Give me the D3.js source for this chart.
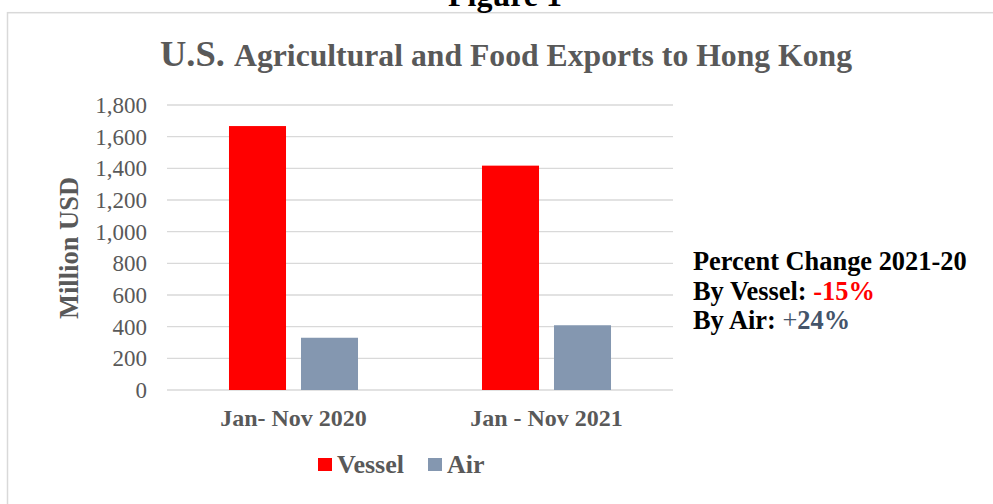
<!DOCTYPE html>
<html>
<head>
<meta charset="utf-8">
<script src="https://cdn.jsdelivr.net/npm/d3@7"></script>
<style>
  body { margin: 0; background: #fff; }
  svg { display: block; font-family: "Liberation Serif", "Times New Roman", serif; }
</style>
</head>
<body>
<svg width="993" height="504"></svg>
<script>
const PERIODS = ['Jan- Nov 2020', 'Jan - Nov 2021'];
const SERIES = ['Vessel', 'Air'];
const VESSEL = [1667, 1417];
const AIR = [330, 409];
const Y_TICKS = [0, 200, 400, 600, 800, 1000, 1200, 1400, 1600, 1800];
const COLORS = ['#ff0000', '#8497b0'];

const PLOT = { left: 167, right: 673, top: 105, bottom: 390 };

const rows = PERIODS.map((p, i) => ({ period: p, values: [VESSEL[i], AIR[i]] }));

const svg = d3.select('svg');

// outer frame
svg.append('rect')
    .attr('x', 7.5).attr('y', 12.7)
    .attr('width', 1000).attr('height', 520)
    .attr('fill', 'none')
    .attr('stroke', '#d9d9d9')
    .attr('stroke-width', 1.5);

svg.append('text')
    .attr('x', 505).attr('y', 6)
    .attr('text-anchor', 'middle')
    .attr('font-weight', 'bold')
    .attr('font-size', 32)
    .attr('fill', '#000')
    .text('Figure 1');

const title = svg.append('text')
    .attr('x', 506).attr('y', 66)
    .attr('text-anchor', 'middle')
    .attr('font-weight', 'bold')
    .attr('fill', '#595959');
title.append('tspan').attr('font-size', 36.5).text('U.S. ');
title.append('tspan').attr('font-size', 31.7).text('Agricultural and Food Exports to Hong Kong');

const xScale = d3.scaleBand()
    .domain(PERIODS)
    .range([PLOT.left, PLOT.right]);

const xInner = d3.scaleBand()
    .domain(SERIES)
    .range([0, xScale.bandwidth()])
    .paddingInner(0.208)
    .paddingOuter(0.861);

const yScale = d3.scaleLinear()
    .domain([0, 1800])
    .range([PLOT.bottom, PLOT.top]);

// gridlines
svg.append('g')
    .selectAll('line')
    .data(Y_TICKS)
    .join('line')
    .attr('x1', PLOT.left).attr('x2', PLOT.right)
    .attr('y1', d => yScale(d)).attr('y2', d => yScale(d))
    .attr('stroke', '#d9d9d9')
    .attr('stroke-width', d => d === 0 ? 1.6 : 1.3);

// y tick labels
const yAxis = svg.append('g')
    .attr('transform', `translate(${PLOT.left - 20},0)`)
    .call(d3.axisLeft(yScale).tickValues(Y_TICKS).tickSize(0).tickPadding(0).tickFormat(d3.format(',')));
yAxis.select('.domain').remove();
yAxis.selectAll('text')
    .attr('font-family', '"Liberation Serif", serif')
    .attr('font-size', 23)
    .attr('fill', '#595959');

svg.append('text')
    .attr('transform', 'translate(78,248) rotate(-90)')
    .attr('text-anchor', 'middle')
    .attr('font-weight', 'bold')
    .attr('font-size', 26.5)
    .attr('fill', '#595959')
    .text('Million USD');

// bars
const groups = svg.append('g')
    .selectAll('g')
    .data(rows)
    .join('g')
    .attr('transform', d => `translate(${xScale(d.period)},0)`);

groups.selectAll('rect')
    .data(d => d.values.map((v, i) => ({ series: SERIES[i], value: v, color: COLORS[i] })))
    .join('rect')
    .attr('x', d => xInner(d.series))
    .attr('width', xInner.bandwidth())
    .attr('y', d => yScale(d.value))
    .attr('height', d => PLOT.bottom - yScale(d.value))
    .attr('fill', d => d.color);

// category labels
const xAxis = svg.append('g')
    .attr('transform', `translate(0,${PLOT.bottom})`)
    .call(d3.axisBottom(xScale).tickSize(0).tickPadding(0));
xAxis.select('.domain').remove();
xAxis.selectAll('text')
    .attr('y', 36)
    .attr('dy', 0)
    .attr('font-family', '"Liberation Serif", serif')
    .attr('font-weight', 'bold')
    .attr('font-size', 24)
    .attr('fill', '#595959');

// legend
const legendX = [318, 428];
const legend = svg.append('g')
    .selectAll('g')
    .data(SERIES)
    .join('g')
    .attr('transform', (d, i) => `translate(${legendX[i]},458)`);
legend.append('rect')
    .attr('width', 14).attr('height', 13)
    .attr('fill', (d, i) => COLORS[i]);
legend.append('text')
    .attr('x', 19).attr('y', 15)
    .attr('font-weight', 'bold')
    .attr('font-size', 26)
    .attr('fill', '#595959')
    .text(d => d);

// annotation
const note = svg.append('g')
    .attr('font-weight', 'bold')
    .attr('font-size', 26.4)
    .attr('fill', '#000');
note.append('text').attr('x', 693).attr('y', 270).text('Percent Change 2021-20');
const l2 = note.append('text').attr('x', 693).attr('y', 300);
l2.append('tspan').text('By Vessel: ');
l2.append('tspan').attr('fill', '#ff0000').text('-15%');
const l3 = note.append('text').attr('x', 693).attr('y', 329);
l3.append('tspan').text('By Air: ');
l3.append('tspan').attr('fill', '#44546a').attr('font-weight', 'normal').text('+');
l3.append('tspan').attr('fill', '#44546a').text('24%');
</script>
</body>
</html>
